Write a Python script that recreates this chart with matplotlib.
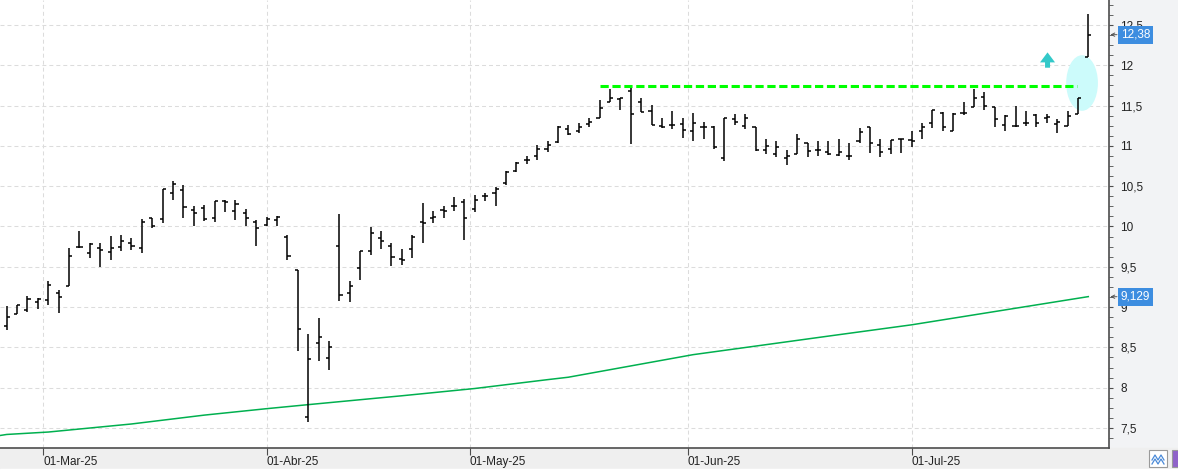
import numpy as np
import pandas as pd
import matplotlib
matplotlib.use("Agg")
import matplotlib.pyplot as plt
import matplotlib.transforms as mtransforms
from matplotlib.patches import Ellipse, Rectangle
from matplotlib.lines import Line2D
from matplotlib.ticker import MultipleLocator, FuncFormatter

plt.rcParams['font.family'] = ['Liberation Sans', 'DejaVu Sans']

# trading days (Spanish market holidays removed)
holidays = ["2025-04-18", "2025-04-21", "2025-05-01"]
dates = pd.bdate_range("2025-02-25", "2025-07-24")
dates = dates[~dates.isin(pd.to_datetime(holidays))]
month_abbr = {3: "Mar", 4: "Abr", 5: "May", 6: "Jun", 7: "Jul"}

opens = [8.76, 8.91, 8.97, 9.06, 9.09, 9.17, 9.26, 9.74, 9.67, 9.73,
         9.68, 9.75, 9.79, 9.73, 10.10, 10.09, 10.41, 10.45, 10.21, 10.23,
         10.11, 10.32, 10.19, 10.17, 10.05, 10.02, 10.08, 9.87, 9.46, 7.64,
         8.55, 8.37, 9.76, 9.18, 9.48, 9.70, 9.86, 9.76, 9.60, 9.72,
         10.06, 10.11, 10.20, 10.25, 10.30, 10.22, 10.38, 10.42, 10.54, 10.69,
         10.83, 10.88, 10.96, 11.05, 11.21, 11.18, 11.27, 11.35, 11.54, 11.58,
         11.68, 11.55, 11.43, 11.25, 11.26, 11.27, 11.18, 11.24, 11.24, 10.85,
         11.33, 11.25, 11.23, 10.95, 10.90, 10.85, 10.90, 11.04, 10.95, 10.93,
         10.89, 10.88, 11.06, 11.23, 11.01, 10.96, 11.08, 11.07, 11.19, 11.28,
         11.41, 11.19, 11.41, 11.48, 11.61, 11.48, 11.26, 11.25, 11.29, 11.38,
         11.34, 11.27, 11.25, 11.40, 12.10]
highs = [9.01, 9.03, 9.14, 9.11, 9.32, 9.21, 9.73, 9.95, 9.79, 9.80,
         9.88, 9.89, 9.86, 10.09, 10.10, 10.46, 10.57, 10.52, 10.26, 10.27,
         10.32, 10.33, 10.33, 10.22, 10.08, 10.12, 10.13, 9.89, 9.46, 8.67,
         8.87, 8.58, 10.16, 9.33, 9.69, 9.99, 9.94, 9.79, 9.72, 9.89,
         10.29, 10.19, 10.25, 10.37, 10.34, 10.39, 10.42, 10.49, 10.69, 10.80,
         10.88, 11.01, 11.06, 11.25, 11.26, 11.29, 11.34, 11.57, 11.71, 11.60,
         11.72, 11.60, 11.51, 11.35, 11.43, 11.35, 11.41, 11.30, 11.25, 11.35,
         11.40, 11.39, 11.23, 11.08, 11.06, 10.95, 11.15, 11.04, 11.06, 11.06,
         11.09, 11.04, 11.22, 11.23, 11.08, 11.07, 11.09, 11.18, 11.28, 11.44,
         11.42, 11.41, 11.55, 11.71, 11.67, 11.48, 11.38, 11.50, 11.43, 11.39,
         11.39, 11.33, 11.43, 11.59, 12.64]
lows = [8.72, 8.91, 8.94, 8.98, 9.03, 8.93, 9.26, 9.73, 9.61, 9.50,
        9.59, 9.70, 9.71, 9.67, 9.98, 10.04, 10.33, 10.10, 10.00, 10.07,
        10.05, 10.18, 10.08, 10.01, 9.76, 10.00, 10.00, 9.59, 8.46, 7.58,
        8.33, 8.22, 9.07, 9.06, 9.34, 9.65, 9.72, 9.51, 9.52, 9.61,
        9.79, 10.04, 10.10, 10.19, 9.83, 10.18, 10.32, 10.26, 10.52, 10.68,
        10.78, 10.82, 10.93, 11.03, 11.14, 11.16, 11.24, 11.34, 11.54, 11.44,
        11.02, 11.42, 11.26, 11.22, 11.21, 11.10, 11.06, 11.09, 10.96, 10.81,
        11.26, 11.21, 10.94, 10.90, 10.86, 10.76, 10.90, 10.86, 10.87, 10.89,
        10.88, 10.82, 11.04, 10.91, 10.86, 10.90, 10.91, 10.99, 11.09, 11.22,
        11.18, 11.19, 11.38, 11.48, 11.45, 11.23, 11.19, 11.24, 11.25, 11.23,
        11.29, 11.16, 11.25, 11.40, 12.10]
closes = [8.88, 9.03, 9.10, 9.10, 9.27, 9.12, 9.64, 9.75, 9.78, 9.71,
          9.73, 9.82, 9.76, 10.05, 10.01, 10.46, 10.53, 10.24, 10.17, 10.09,
          10.32, 10.31, 10.28, 10.10, 9.98, 10.09, 10.12, 9.64, 8.73, 8.35,
          8.63, 8.51, 9.15, 9.26, 9.69, 9.92, 9.82, 9.62, 9.59, 9.87,
          10.04, 10.12, 10.19, 10.25, 10.10, 10.33, 10.38, 10.47, 10.68, 10.79,
          10.83, 10.96, 11.01, 11.24, 11.15, 11.24, 11.30, 11.47, 11.59, 11.60,
          11.40, 11.42, 11.26, 11.24, 11.26, 11.20, 11.28, 11.24, 10.99, 11.34,
          11.30, 11.35, 10.95, 11.00, 10.99, 10.87, 11.09, 10.94, 10.95, 10.90,
          10.93, 10.88, 11.17, 11.03, 10.93, 11.07, 11.08, 11.06, 11.24, 11.44,
          11.24, 11.40, 11.41, 11.60, 11.50, 11.33, 11.37, 11.25, 11.29, 11.28,
          11.36, 11.30, 11.37, 11.59, 12.38]

# long moving average, read at a few bars
ma_bar = [-1, 0, 4, 12, 19, 25, 29, 38, 45, 52, 54, 66, 79, 87, 104]
ma_val = [7.40, 7.42, 7.45, 7.55, 7.66, 7.74, 7.79, 7.90, 7.99, 8.10,
          8.13, 8.41, 8.64, 8.78, 9.13]
ma_last = 9.129

resist_level = 11.74
resist_bars = [57, 102.9]

W, H = 1178, 472
fig = plt.figure(figsize=(W / 100, H / 100), dpi=100, facecolor="#f2f3f5")


def px(x0, y0, w, h):
    # pixel box (top-left origin) -> figure fraction rect
    return (x0 / W, 1 - (y0 + h) / H), w / W, h / H


def fig_rect(x0, y0, w, h, **kw):
    xy, fw, fh = px(x0, y0, w, h)
    fig.patches.append(Rectangle(xy, fw, fh, transform=fig.transFigure,
                                 zorder=-5, **kw))


fig_rect(0, 448, W, 21, color="#efefef")
fig_rect(0, 469, W, 3, color="white")

ax = fig.add_axes([0, 24 / H, 1109 / W, 448 / H])
ax.set_facecolor("white")

x = np.arange(len(dates))
ax.set_xlim(-0.644, 105.99)
ax.set_ylim(7.252, 12.81)

# month ticks
month_pos, month_lbl = [], []
for m in sorted(month_abbr):
    first = np.where(dates.month == m)[0][0]
    pos = first if dates[first].day == 1 else first - 0.5
    month_pos.append(pos)
    month_lbl.append(f"01-{month_abbr[m]}-25")

ax.set_xticks(month_pos)
ax.set_xticklabels(month_lbl)
ax.yaxis.tick_right()
ax.yaxis.set_major_locator(MultipleLocator(0.5))
ax.yaxis.set_minor_locator(MultipleLocator(0.125))
ax.yaxis.set_major_formatter(FuncFormatter(lambda v, _: f"{v:g}".replace(".", ",")))
ax.grid(True, which="major", color="#dcdcdc", lw=0.75, ls=(0, (3.8, 2.9)), zorder=0)
ax.set_axisbelow(True)

for s in ["top", "left"]:
    ax.spines[s].set_visible(False)
for s in ["right", "bottom"]:
    ax.spines[s].set_color("#4d4d4d")
    ax.spines[s].set_linewidth(1.2)

ax.tick_params(axis="y", which="both", right=True, left=False, length=3,
               color="#4d4d4d", labelsize=8.5, labelcolor="#222222", pad=5)
ax.tick_params(axis="x", length=5, color="#4d4d4d", labelsize=8.5,
               labelcolor="#222222", pad=1)
for lbl in ax.get_xticklabels():
    lbl.set_ha("left")

# highlight ellipse and resistance line
ax.add_patch(Ellipse((103.4, 11.78), 3.05, 0.69, color="#ccfbfb", lw=0, zorder=1.5))
ax.plot(resist_bars, [resist_level] * 2, color="#00ff00", lw=2.2,
        dashes=(2.7, 1.2), zorder=3)

# moving average
ax.plot(ma_bar, ma_val, color="#00b04f", lw=1.1, zorder=2)

# OHLC bars
ax.vlines(x, lows, highs, color="black", lw=1.1, zorder=4)
ax.hlines(opens, x - 0.3, x, color="black", lw=1.1, zorder=4)
ax.hlines(closes, x, x + 0.3, color="black", lw=1.1, zorder=4)

# up arrow
ax.annotate("", xy=(100.08, 12.16), xytext=(100.08, 11.97),
            arrowprops=dict(facecolor="#33c9c9", edgecolor="none", width=3.6,
                            headwidth=10.8, headlength=7.2, shrink=0))

# price labels on the axis
trans = mtransforms.blended_transform_factory(ax.transAxes, ax.transData)
for val, txt in [(closes[-1], "12,38"), (ma_last, "9,129")]:
    ax.text(1.0108, val, txt, transform=trans, va="center", ha="left",
            color="white", fontsize=8.5, clip_on=False, zorder=6,
            bbox=dict(boxstyle="square,pad=0.25", fc="#3d8de0", ec="none"))
    ax.annotate("", xy=(1.0012, val), xytext=(1.0072, val), xycoords=trans,
                textcoords=trans, annotation_clip=False,
                arrowprops=dict(arrowstyle="->", lw=0.7, color="#555555",
                                mutation_scale=6, shrinkA=0, shrinkB=0))

# small toolbar icons bottom right
fig_rect(1149, 450, 18, 17, fc="white", ec="#9a9a9a", lw=0.8)
zx = np.array([1152, 1155, 1158, 1161, 1164]) / W
zy = 1 - np.array([460, 455, 460, 455, 460]) / H
fig.add_artist(Line2D(zx, zy, color="#4a8ad8", lw=0.9, transform=fig.transFigure))
fig.add_artist(Line2D(zx, zy - 4 / H, color="#4a8ad8", lw=0.9, transform=fig.transFigure))
fig_rect(1172, 450, 8, 17, fc="#8f63c9", ec="#9a9a9a", lw=0.8)

fig.savefig("out.png", dpi=100, facecolor=fig.get_facecolor())
